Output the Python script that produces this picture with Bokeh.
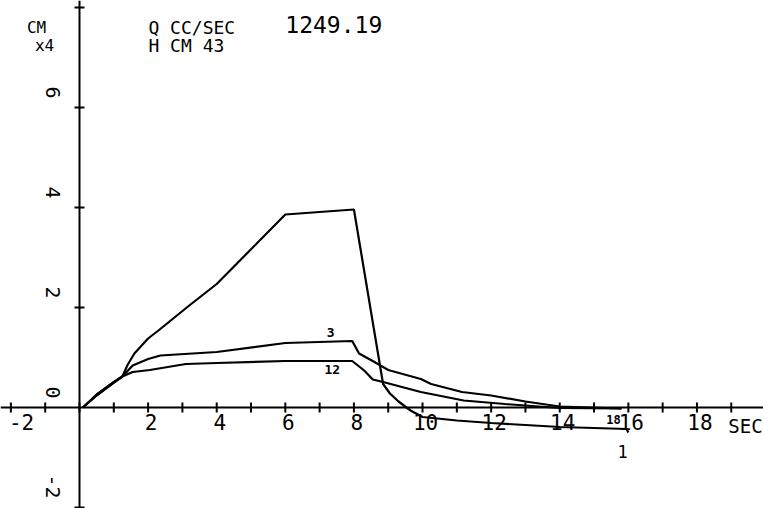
import numpy as np
from bokeh.plotting import figure
from bokeh.models import Span, Label
from bokeh.core.properties import value
from bokeh.embed import file_html
from bokeh.resources import INLINE

# ---- data (time in SEC, head in CM x4) ----
t1 = [0.1, 0.5, 1.0, 1.25, 1.4, 1.6, 2.0, 2.3, 3.2, 4.0, 6.0, 8.0, 8.85, 9.05, 9.3, 9.65,
      10.0, 11.0, 12.0, 13.0, 14.0, 15.0, 15.95, 16.0]
h1 = [0.0, 0.24, 0.5, 0.62, 0.85, 1.08, 1.38, 1.54, 2.04, 2.47, 3.86, 3.96, 0.47, 0.28, 0.12,
      -0.06, -0.19, -0.26, -0.31, -0.35, -0.39, -0.41, -0.43, -0.5]

t3 = [0.1, 0.5, 1.0, 1.25, 1.55, 2.0, 2.36, 4.0, 6.0, 7.95, 8.15, 8.6, 9.0, 9.95, 10.25,
      11.15, 12.0, 13.0, 14.0, 15.8]
h3 = [0.0, 0.25, 0.5, 0.62, 0.84, 0.97, 1.04, 1.11, 1.29, 1.33, 1.08, 0.91, 0.75, 0.57, 0.47,
      0.31, 0.24, 0.12, 0.02, -0.02]

t12 = [0.1, 0.5, 1.0, 1.25, 1.55, 2.05, 3.1, 4.0, 6.0, 7.95, 8.3, 8.55, 8.85, 9.95, 11.2,
       12.4, 14.0, 15.8]
h12 = [0.0, 0.26, 0.51, 0.62, 0.71, 0.75, 0.87, 0.89, 0.93, 0.93, 0.74, 0.56, 0.51, 0.31, 0.14,
       0.07, -0.01, -0.02]

curve_names = ["3", "12", "1", "18"]
curve_label_x = [7.32, 7.37, 15.83, 15.57]
curve_label_y = [1.51, 0.77, -0.88, -0.24]

x_ticks = list(range(-2, 20))
y_ticks = [-2, 2, 4, 6, 8]
x_tick_labels = ["2", "4", "6", "8", "10", "12", "14", "16", "18"]
x_label_pos = [2, 4, 6, 8, 10, 12, 14, 16, 18]
y_label_pos = [-2, 0, 2, 4, 6]
y_tick_labels = ["-2", "0", "2", "4", "6"]

q_value = "1249.19"
h_value = "43"

FONT = value("DejaVu Sans Mono")

p = figure(width=763, height=508, x_range=(-2.303, 19.94), y_range=(-2.02, 8.14),
           output_backend="svg", toolbar_location=None, x_axis_type=None, y_axis_type=None,
           min_border=0)
p.outline_line_color = None
p.background_fill_color = "white"
p.border_fill_color = "white"

# axes through the origin
p.add_layout(Span(location=0, dimension="width", line_color="black", line_width=2))
p.add_layout(Span(location=0, dimension="height", line_color="black", line_width=2))

# tick marks
p.scatter(x=x_ticks, y=[0] * len(x_ticks), marker="dash", angle=np.pi / 2, size=10,
          line_color="black", line_width=2)
p.scatter(x=[0] * len(y_ticks), y=y_ticks, marker="dash", size=10,
          line_color="black", line_width=2)

# x tick labels
p.text(x=x_label_pos, y=[0] * len(x_label_pos), text=x_tick_labels, text_font=FONT,
       text_font_size="21px", text_align="center", text_baseline="top", x_offset=3, y_offset=6,
       text_color="black")
p.text(x=[-2], y=[0], text=["-2"], text_font=FONT, text_font_size="21px", text_align="left",
       text_baseline="top", x_offset=-2, y_offset=6, text_color="black")
p.text(x=[19], y=[0], text=["SEC"], text_font=FONT, text_font_size="19px", text_align="left",
       text_baseline="top", x_offset=-3, y_offset=7, text_color="black")

# y tick labels (rotated)
p.text(x=[-0.76] * len(y_label_pos), y=y_label_pos, text=y_tick_labels, text_font=FONT,
       text_font_size="20px", text_align="right", text_baseline="middle", angle=-np.pi / 2,
       y_offset=-9, text_color="black")

# curves
for tx, hy in [(t1, h1), (t3, h3), (t12, h12)]:
    p.line(tx, hy, line_color="black", line_width=2.2)

# curve labels
p.text(x=curve_label_x[:2], y=curve_label_y[:2], text=curve_names[:2], text_font=FONT,
       text_font_size="13px", text_font_style="bold", text_align="center",
       text_baseline="middle", text_color="black")
p.text(x=[curve_label_x[2]], y=[curve_label_y[2]], text=[curve_names[2]], text_font=FONT,
       text_font_size="17px", text_align="center", text_baseline="middle", text_color="black")
p.text(x=[curve_label_x[3]], y=[curve_label_y[3]], text=[curve_names[3]], text_font=FONT,
       text_font_size="12px", text_font_style="bold", text_align="center",
       text_baseline="middle", text_color="black")

# header texts
hdr = dict(text_font="DejaVu Sans Mono", text_color="black", text_baseline="middle")
p.add_layout(Label(x=-1.25, y=7.6, text="CM", text_font_size="16px", text_align="center", **hdr))
p.add_layout(Label(x=-1.02, y=7.24, text="x4", text_font_size="16px", text_align="center", **hdr))
p.add_layout(Label(x=2.01, y=7.6, text="Q CC/SEC", text_font_size="18px", text_align="left", **hdr))
p.add_layout(Label(x=2.01, y=7.24, text="H CM " + h_value, text_font_size="18px",
                   text_align="left", **hdr))
p.add_layout(Label(x=6.0, y=7.66, text=q_value, text_font_size="23px", text_align="left", **hdr))

open("out.html", "w").write(file_html(p, INLINE))
